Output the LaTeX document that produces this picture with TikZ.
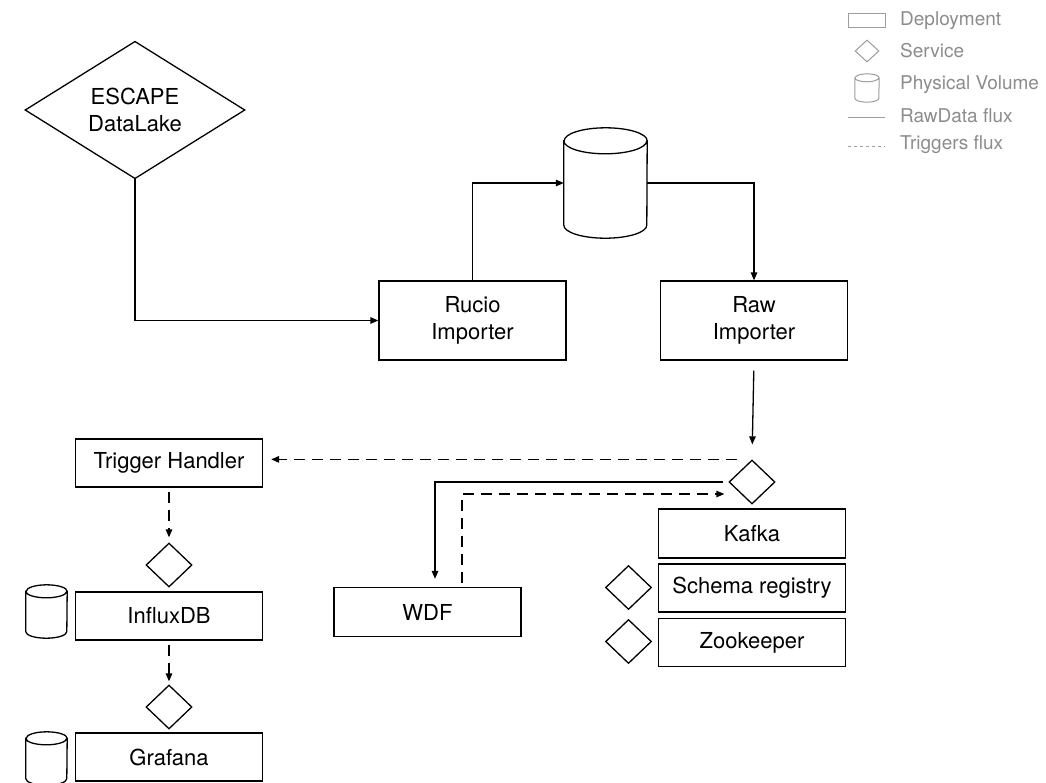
\documentclass[tikz,border=0pt]{standalone}
\usepackage{fontspec}
\setmainfont{TeX Gyre Heros}
\usetikzlibrary{positioning, arrows.meta, shapes.geometric}
\definecolor{legendgrey}{RGB}{140,140,140}
\tikzset{
    deploy/.style  = {draw, line width=1.3pt, minimum width=187pt, minimum height=48pt,
                      inner sep=0pt, align=center, font=\fontsize{22}{27}\selectfont},
    service/.style = {draw, diamond, line width=1.3pt, minimum width=46pt,
                      minimum height=44pt, inner sep=0pt},
    volume/.style  = {inner sep=0pt},
    raw/.style     = {-{Triangle[length=8pt, width=6.5pt]}, line width=1.3pt},
    trig/.style    = {raw, dash pattern=on 11pt off 7pt},
    legsym/.style  = {draw=legendgrey!85, line width=1pt, inner sep=0pt},
    legtext/.style = {anchor=west, inner sep=0pt, text=legendgrey,
                      font=\fontsize{19}{21}\selectfont}
}
% outline of a cylinder round a named node: #1 style, #2 node, #3 x radius, #4 y radius
\newcommand\volshape[4]{%
    \draw[#1] ([yshift=-#4]#2.north west) -- ([yshift=#4]#2.south west)
        arc[start angle=180, end angle=360, x radius=#3, y radius=#4]
        -- ([yshift=-#4]#2.north east)
        arc[start angle=0, end angle=180, x radius=#3, y radius=#4] -- cycle
        ([yshift=-#4]#2.north west)
        arc[start angle=180, end angle=360, x radius=#3, y radius=#4];}

\begin{document}
\begin{tikzpicture}[x=1pt, y=-1pt]
        \useasboundingbox (0,0) rectangle (1046,782);

        % upper part
        \node[service, minimum width=220pt, minimum height=106pt, align=center,
              font=\fontsize{22}{27}\selectfont] (lake) at (135,110) {ESCAPE\\DataLake};
        \node[volume, minimum width=83pt, minimum height=110pt] (store) at (605.5,183) {};
        \node[deploy, minimum height=79pt] (rucio) at (472.5,320.5) {Rucio\\Importer};
        \node[deploy, minimum height=79pt] (rawimp) at (754,320.5) {Raw\\Importer};

        % kafka stack
        \node[service] (ksvc) at (752,482) {};
        \node[deploy, minimum height=49pt] (kafka) at (752,533.5) {Kafka};
        \node[deploy] (schema) at (752,588) {Schema registry};
        \node[deploy] (zoo) at (752,642.5) {Zookeeper};
        \node[service] (ssvc) at (628.5,587.5) {};
        \node[service] (zsvc) at (628.5,641.5) {};

        \node[deploy, minimum height=49pt] (wdf) at (427.5,612) {WDF};

        % trigger chain
        \node[deploy] (trig) at (169,463) {Trigger Handler};
        \node[service] (isvc) at (169,565) {};
        \node[deploy] (influx) at (169,616) {InfluxDB};
        \node[volume, minimum width=41pt, minimum height=53pt] (ivol) at (46.5,611.5) {};
        \node[service] (gsvc) at (169,707) {};
        \node[deploy] (grafana) at (169,757) {Grafana};
        \node[volume, minimum width=41pt, minimum height=53pt] (gvol) at (46.5,758.5) {};

        \volshape{line width=1.3pt}{store}{41.5pt}{13pt}
        \volshape{line width=1.3pt}{ivol}{20.5pt}{6.5pt}
        \volshape{line width=1.3pt}{gvol}{20.5pt}{6.5pt}

        \draw[raw] (lake.south) |- (rucio.west);
        \draw[raw] (rucio.north) |- (store.west);
        \draw[raw] (store.east) -| (rawimp.north);
        \draw[raw, shorten <=10pt, shorten >=15pt] (rawimp.south) -- (ksvc.north);
        \draw[trig, shorten >=8pt] ([xshift=-15pt]ksvc.north) -- (trig.east |- ksvc.north);
        \draw[raw, shorten <=5pt, shorten >=8pt] (ksvc.west) -| ([xshift=7.5pt]wdf.north);
        \draw[trig, shorten <=4pt] ([xshift=34.5pt]wdf.north)
            |- ([xshift=-4pt, yshift=-12pt]ksvc.west);
        \draw[trig, shorten <=4pt, shorten >=5pt] (trig.south) -- (isvc.north);
        \draw[trig, shorten <=4pt, shorten >=3pt] (influx.south) -- (gsvc.north);

        % legend
        \node[legsym, minimum width=37pt, minimum height=14pt] (legdep) at (866.5,20) {};
        \node[legsym, diamond, minimum width=24pt, minimum height=22pt] (legsvc) at (867,51) {};
        \node[volume, minimum width=24pt, minimum height=28pt] (legvol) at (867,88) {};
        \volshape{legsym}{legvol}{12pt}{4pt}
        \coordinate (legraw) at (848,117);
        \coordinate (legtrg) at (848,146);
        \draw[legsym] (legraw) -- ++(37,0);
        \draw[legsym, dash pattern=on 3pt off 3pt] (legtrg) -- ++(37,0);
        \node[legtext] (tdep) at (900,21) {Deployment};
        \node[legtext] (tsvc) at (900,51) {Service};
        \node[legtext] (tvol) at (900,85) {Physical Volume};
        \node[legtext] (traw) at (900,116) {RawData flux};
        \node[legtext] (ttrg) at (900,145) {Triggers flux};
    \end{tikzpicture}
\end{document}
